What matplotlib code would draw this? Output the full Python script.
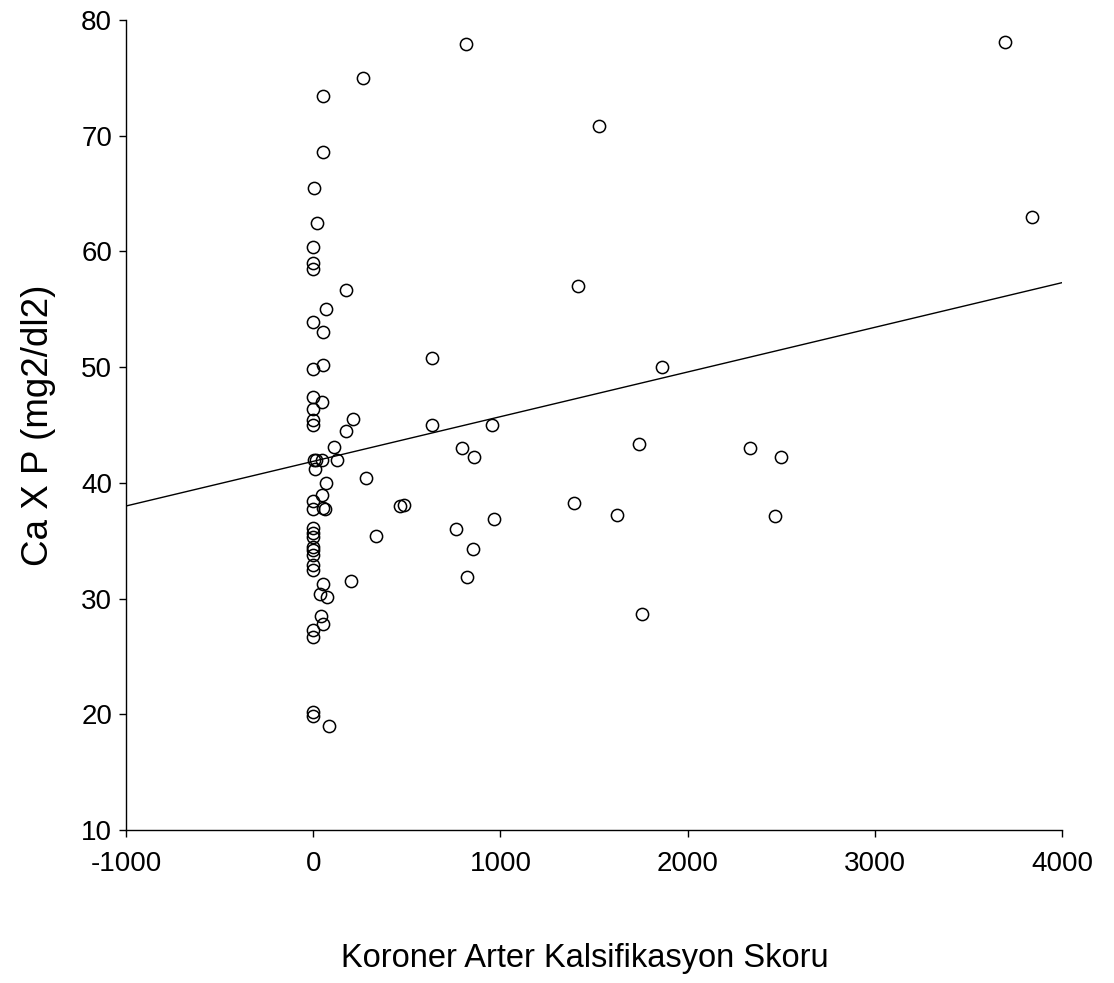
import numpy as np
import matplotlib
matplotlib.use("Agg")
import matplotlib.pyplot as plt

plt.rcParams['font.family'] = ['Liberation Sans', 'DejaVu Sans']
plt.rcParams['axes.unicode_minus'] = False

# Coronary artery calcification score
score = [815, 3697, 265, 50, 1529, 50, 5, 22, 3838, 0, 0, 0, 177, 1413, 67, 0, 50,
         633, 1863, 55, 0, 0, 45, 0, 0, 0, 213, 177, 111, 633, 957, 797, 859, 1741,
         2332, 2498, 4, 17, 49, 10, 129, 284, 70, 49, 0, 0, 52, 63, 464, 486, 1394,
         966, 761, 1625, 2466, 0, 0, 0, 338, 0, 0, 0, 854, 0, 0, 824, 204, 54, 35,
         72, 44, 54, 1754, 0, 0, 0, 0, 85]
# Ca x P (mg2/dl2)
caxp = [77.9, 78.1, 75.0, 73.4, 70.8, 68.6, 65.5, 62.5, 63.0, 60.4, 59.0, 58.5, 56.7,
        57.0, 55.0, 53.9, 53.0, 50.8, 50.0, 50.2, 49.8, 47.4, 47.0, 46.4, 45.4, 45.0,
        45.5, 44.5, 43.1, 45.0, 45.0, 43.0, 42.2, 43.4, 43.0, 42.2, 42.0, 42.0, 42.0,
        41.2, 42.0, 40.4, 40.0, 38.95, 38.4, 37.7, 37.8, 37.7, 38.0, 38.1, 38.3, 36.9,
        36.0, 37.2, 37.1, 36.1, 35.7, 35.3, 35.4, 34.5, 34.2, 33.8, 34.3, 32.9, 32.5,
        31.9, 31.5, 31.25, 30.4, 30.1, 28.5, 27.8, 28.65, 27.3, 26.7, 20.2, 19.85, 19.0]

# regression line (as drawn in the reference)
line_x = [-1000, 4000]
line_intercept = 41.86
line_slope = 0.00386

x_ticks = [-1000, 0, 1000, 2000, 3000, 4000]
y_ticks = [10, 20, 30, 40, 50, 60, 70, 80]

fig = plt.figure(figsize=(11.14, 9.83), dpi=100)
ax = fig.add_axes([126/1114, 1-830/983, (1062-126)/1114, (830-20)/983])

ax.plot(score, caxp, linestyle='none', marker='o', mfc='none', mec='black',
        ms=8.8, mew=1.1, zorder=3)
lx = np.array(line_x, dtype=float)
ax.plot(lx, line_intercept + line_slope * lx, color='black', lw=1.0, zorder=2)

ax.set_xlim(-1000, 4000)
ax.set_ylim(10, 80)
ax.set_xticks(x_ticks)
ax.set_yticks(y_ticks)
for s in ['top', 'right']:
    ax.spines[s].set_visible(False)
for s in ['left', 'bottom']:
    ax.spines[s].set_linewidth(1.0)
ax.tick_params(direction='out', length=5, width=1.0, labelsize=20)
ax.tick_params(axis='x', pad=10)
ax.tick_params(axis='y', pad=5)

ax.set_xlabel('Koroner Arter Kalsifikasyon Skoru', fontsize=23.5, labelpad=48)
ax.xaxis.label.set_x(0.49)
ax.set_ylabel('Ca X P (mg2/dl2)', fontsize=26.5, labelpad=18)

fig.savefig('out.png', dpi=100, facecolor='white')
